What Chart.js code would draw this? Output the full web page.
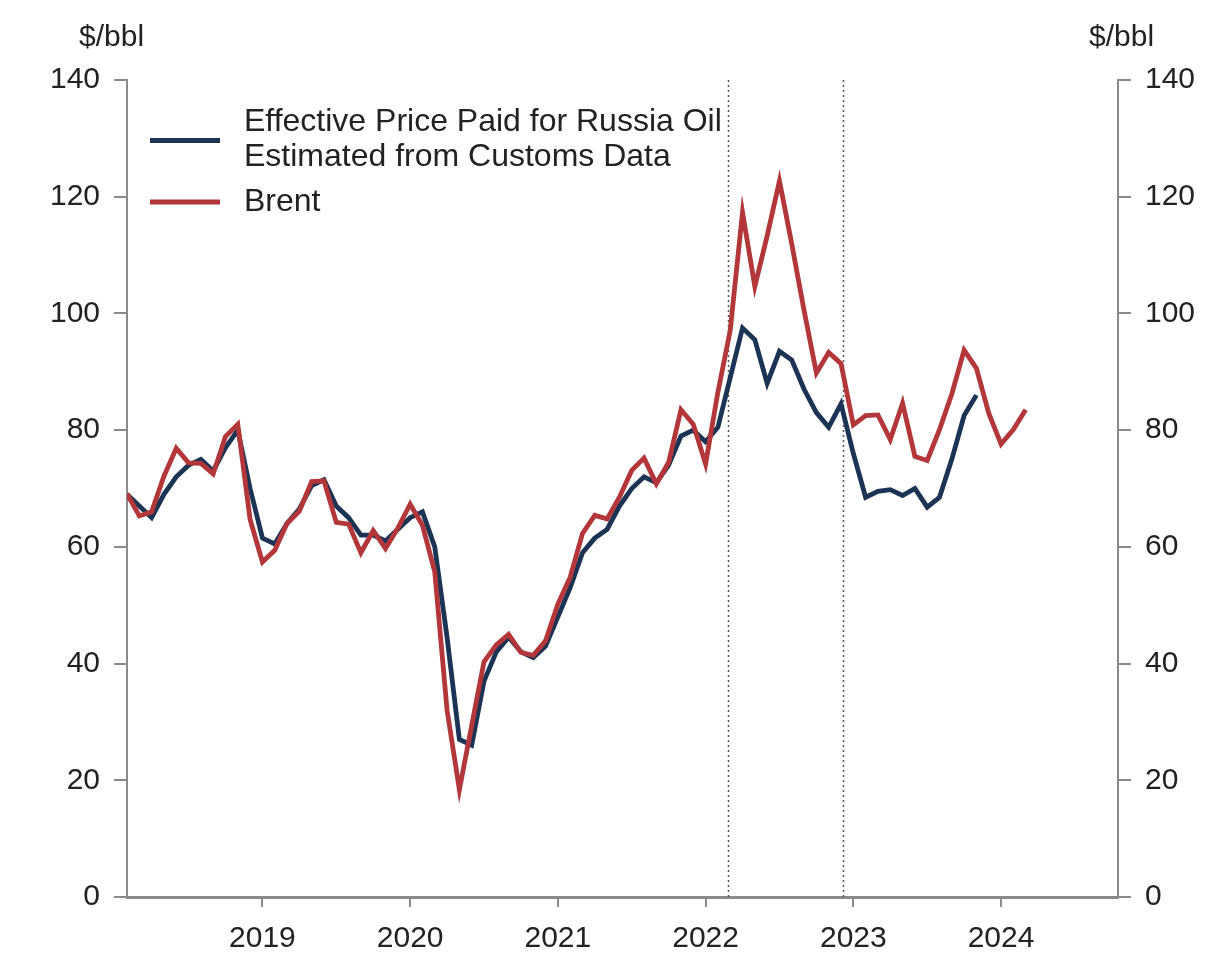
<!DOCTYPE html>
<html>
<head>
<meta charset="utf-8">
<script src="https://cdn.jsdelivr.net/npm/chart.js@4.4.1/dist/chart.umd.min.js"></script>
<style>
  html, body { margin: 0; padding: 0; background: #fff; }
  #wrap { width: 1205px; height: 960px; }
</style>
</head>
<body>
<div id="wrap"><canvas id="oilChart" width="1205" height="960"></canvas></div>
<script>
// monthly averages in $/bbl, first value = Jan 2018
const startYear = 2018;

const russiaEffective = [
  69, 67, 65, 69, 72, 74, 75, 73, 77, 80, 70, 61.5,          // 2018
  60.5, 64, 66.5, 70.5, 71.5, 67, 65, 62, 62, 61, 63, 65,    // 2019
  66, 60, 44.5, 27, 26, 37, 42, 44.5, 42, 41, 43, 48,        // 2020
  53, 59, 61.5, 63, 67, 70, 72, 71, 74, 79, 80, 78,          // 2021
  80.5, 89, 97.5, 95.5, 88, 93.5, 92, 87, 83, 80.5, 84.5, 76, // 2022
  68.5, 69.5, 69.8, 68.8, 70, 66.8, 68.5, 75, 82.5, 86       // 2023 (to Oct)
];

const brent = [
  69.1, 65.3, 66.0, 72.1, 76.9, 74.4, 74.3, 72.5, 78.9, 81.0, 64.7, 57.4,
  59.4, 64.0, 66.1, 71.2, 71.3, 64.2, 63.9, 59.0, 62.8, 59.7, 63.2, 67.3,
  63.7, 55.7, 32.0, 18.4, 29.4, 40.3, 43.2, 45.0, 41.9, 41.4, 43.9, 50.2,
  54.8, 62.3, 65.4, 64.8, 68.5, 73.1, 75.2, 70.8, 74.5, 83.5, 81.0, 74.2,
  86.5, 97.1, 117.3, 104.6, 113.3, 122.7, 111.9, 100.5, 89.8, 93.3, 91.4, 80.9,
  82.5, 82.6, 78.4, 84.6, 75.5, 74.8, 80.1, 86.2, 93.7, 90.6, 82.9, 77.6,
  80.1, 83.5
];

const yearTicks = [2019, 2020, 2021, 2022, 2023, 2024];
const yTicks = [0, 20, 40, 60, 80, 100, 120, 140];
const eventDates = ['2022-02-24', '2022-12-05']; // invasion, price cap
const seriesNames = [['Effective Price Paid for Russia Oil', 'Estimated from Customs Data'], ['Brent']];
const unitLabel = '$/bbl';

const BLUE = '#1c3454';
const RED = '#b3373a';
const AXIS = '#8a8a8a';
const FONT = '"Liberation Sans", Arial, sans-serif';

// month i (0 = Jan 2018) is plotted at the end of that month
const toPoints = vals => vals.map((v, i) => ({ x: i + 1, y: v }));

function datePos(s) {
  const [y, m, d] = s.split('-').map(Number);
  const days = new Date(y, m, 0).getDate();
  return (y - startYear) * 12 + (m - 1) + (d - 1) / days;
}

const overlay = {
  id: 'overlay',
  beforeDatasetsDraw(chart) {
    const { ctx, chartArea, scales } = chart;
    ctx.save();
    ctx.strokeStyle = '#555';
    ctx.lineWidth = 1.5;
    ctx.setLineDash([2, 3]);
    eventDates.forEach(d => {
      const px = Math.round(scales.x.getPixelForValue(datePos(d))) + 0.5;
      ctx.beginPath();
      ctx.moveTo(px, chartArea.top);
      ctx.lineTo(px, chartArea.bottom);
      ctx.stroke();
    });
    ctx.restore();
  },
  afterDraw(chart) {
    const ctx = chart.ctx;
    ctx.save();
    ctx.fillStyle = '#222';
    ctx.textBaseline = 'middle';
    ctx.font = '30px ' + FONT;
    ctx.textAlign = 'left';
    ctx.fillText(unitLabel, 79, 38);
    ctx.fillText(unitLabel, 1089, 38);

    // legend
    const colors = [BLUE, RED];
    const rows = [[122, 157], [202]];
    ctx.font = '32px ' + FONT;
    seriesNames.forEach((lines, k) => {
      const ys = rows[k];
      const mid = (ys[0] + ys[ys.length - 1]) / 2 + (ys.length > 1 ? 1 : 0);
      ctx.strokeStyle = colors[k];
      ctx.lineWidth = 5;
      ctx.setLineDash([]);
      ctx.beginPath();
      ctx.moveTo(150, mid);
      ctx.lineTo(220, mid);
      ctx.stroke();
      lines.forEach((t, j) => ctx.fillText(t, 244, ys[j]));
    });
    ctx.restore();
  }
};

const yAxis = (pos, width) => ({
  position: pos,
  min: 0,
  max: 140,
  afterBuildTicks: axis => { axis.ticks = yTicks.map(v => ({ value: v })); },
  afterFit: axis => { axis.width = width; },
  ticks: { font: { family: FONT, size: 30 }, color: '#222', padding: 14 },
  grid: { drawOnChartArea: false, drawTicks: true, tickLength: 13, color: AXIS, lineWidth: 2 },
  border: { display: true, color: AXIS, width: 2 }
});

new Chart(document.getElementById('oilChart').getContext('2d'), {
  type: 'line',
  data: {
    datasets: [
      {
        label: seriesNames[0].join(' '),
        data: toPoints(russiaEffective),
        borderColor: BLUE,
        borderWidth: 4.8,
        pointRadius: 0,
        tension: 0,
        order: 1,
        yAxisID: 'y'
      },
      {
        label: seriesNames[1].join(' '),
        data: toPoints(brent),
        borderColor: RED,
        borderWidth: 4.8,
        pointRadius: 0,
        tension: 0,
        order: 0,
        yAxisID: 'y'
      }
    ]
  },
  options: {
    responsive: false,
    animation: false,
    devicePixelRatio: 1,
    layout: { padding: { top: 80, left: 0, right: 0, bottom: 0 } },
    plugins: { legend: { display: false }, tooltip: { enabled: false } },
    scales: {
      x: {
        type: 'linear',
        min: 1,
        max: 81.5,
        afterBuildTicks: axis => { axis.ticks = yearTicks.map(y => ({ value: (y - startYear) * 12 })); },
        afterFit: axis => { axis.height = 63; },
        ticks: {
          font: { family: FONT, size: 30 },
          color: '#222',
          padding: 14,
          maxRotation: 0,
          autoSkip: false,
          callback: v => String(startYear + v / 12)
        },
        grid: { drawOnChartArea: false, drawTicks: true, tickLength: 10, color: AXIS, lineWidth: 2 },
        border: { display: true, color: AXIS, width: 3 }
      },
      y: yAxis('left', 127),
      y2: yAxis('right', 87)
    }
  },
  plugins: [overlay]
});
</script>
</body>
</html>
